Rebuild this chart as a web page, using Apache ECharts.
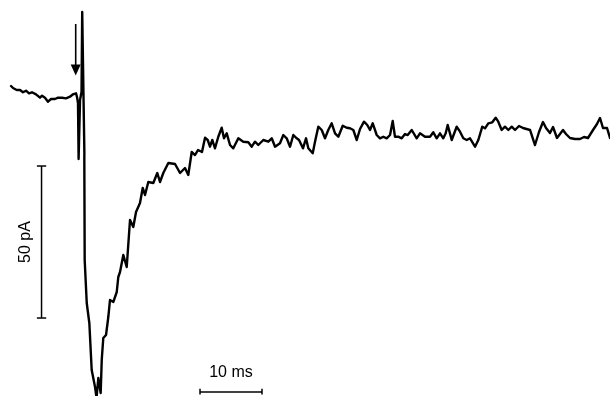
<!DOCTYPE html>
<html>
<head>
<meta charset="utf-8">
<script src="https://cdn.jsdelivr.net/npm/echarts@6/dist/echarts.min.js"></script>
<style>
  html, body { margin: 0; padding: 0; background: #fff; }
  #chart { width: 610px; height: 396px; }
</style>
</head>
<body>
<div id="chart"></div>
<script>
// time (ms) relative to stimulus, current (pA) relative to baseline
var timeMs = [
  -11.61, -11.29, -10.69, -10.16, -9.68, -9.19, -8.71, -8.23, -7.58, -6.94, -6.61, -6.13,
  -5.65, -5.16, -4.52, -4.03, -3.39, -2.74, -2.10, -1.61, -1.29, -1.13,
  -0.97, -0.81, -0.71, -0.55, -0.48, -0.24, -0.13, 0.05, 0.18, 0.22, 0.21, 0.27,
  0.60, 1.02, 1.40, 1.94, 2.18, 2.47, 2.85, 3.02, 3.27, 3.71, 4.08, 4.35, 4.89, 5.44,
  5.69, 5.97, 6.50, 7.05, 7.58, 8.11, 8.55, 9.19, 9.63, 10.00, 10.53, 11.34, 11.98,
  12.42, 12.95, 13.76, 14.84, 15.65, 16.45, 16.98, 17.53, 18.06, 18.55, 19.19, 19.68,
  20.11, 20.48, 20.85, 21.29, 21.82, 22.37, 22.74, 23.18, 23.71, 24.24, 25.05, 25.85,
  26.66, 27.21, 27.74, 28.27, 29.08, 29.89, 30.44, 30.97, 31.77, 32.31, 32.85, 33.39,
  33.92, 34.47, 34.84, 35.48, 35.97, 36.34, 37.05, 37.42, 37.95, 38.50, 39.03, 39.56,
  40.11, 40.65, 41.18, 41.89, 42.53, 43.06, 43.60, 44.15, 44.68, 45.32, 45.85, 46.29,
  46.73, 47.37, 47.90, 48.44, 48.98, 49.52, 49.95, 50.32, 50.85, 51.40, 51.94, 52.37,
  53.02, 53.82, 54.35, 55.16, 55.97, 56.50, 57.05, 57.58, 58.11, 58.50, 58.82, 59.19,
  59.47, 60.27, 60.81, 61.34, 61.89, 62.42, 63.23, 63.76, 64.40, 64.84, 65.37, 66.02,
  66.56, 66.98, 67.53, 68.06, 68.60, 69.15, 69.68, 70.32, 70.97, 72.10, 72.90, 73.55,
  74.19, 74.68, 75.32, 75.81, 76.45, 77.42, 77.90, 78.55, 79.35, 80.16, 80.81, 81.45,
  82.26, 82.90, 83.39, 83.87, 84.52, 85.00
];
var currentPA = [
  2.96, 2.30, 1.64, 1.64, 0.89, 1.41, 0.56, 0.89, 0.23, -0.89, -0.23, -0.89,
  -2.20, -1.32, -1.32, -0.89, -0.89, -1.09, -0.56, 0.23, -0.23, 0.56,
  -0.66, -2.63, -21.05, -21.05, -1.64, 0.99, 27.30, 27.30, 27.30, -19.00, -21.00, -54.28,
  -68.42, -75.00, -90.46, -96.05, -99.60, -93.09, -98.03, -87.17, -79.93, -78.95, -73.03, -67.43, -68.09, -64.80,
  -59.87, -58.22, -52.63, -56.58, -41.12, -43.42, -38.49, -35.53, -30.59, -32.89, -28.62, -28.95, -25.66,
  -28.62, -25.66, -22.37, -22.70, -25.66, -24.01, -26.32, -18.75, -19.74, -18.09, -18.75, -14.05,
  -14.80, -17.01, -14.80, -17.53, -13.72, -10.76, -14.24, -12.60, -16.45, -17.53, -14.24, -15.36,
  -15.56, -17.01, -15.36, -16.45, -14.80, -15.36, -14.24, -17.01, -15.89, -13.16, -14.24, -17.01,
  -13.16, -14.24, -14.80, -17.53, -14.24, -17.53, -19.18, -15.36, -10.43, -11.51, -14.24, -11.51,
  -9.31, -12.60, -13.72, -10.10, -10.76, -10.95, -11.51, -14.80, -11.18, -8.78, -9.87, -11.51,
  -9.31, -13.16, -14.24, -13.72, -14.24, -13.16, -8.55, -13.72, -13.72, -14.24, -12.83, -13.16,
  -11.51, -14.24, -12.60, -13.72, -13.72, -12.27, -14.24, -12.60, -14.24, -12.60, -9.87, -12.60,
  -14.80, -10.43, -12.07, -14.24, -14.80, -14.24, -17.01, -14.80, -10.43, -10.95, -9.31, -8.98,
  -7.47, -8.78, -11.51, -10.43, -11.51, -10.43, -11.51, -10.20, -10.86, -11.51, -16.45, -12.17,
  -8.88, -10.86, -12.50, -10.53, -14.14, -11.51, -12.83, -14.14, -14.47, -14.47, -13.82, -14.14,
  -11.51, -9.54, -7.57, -10.86, -10.86, -14.14
];

// scale bars (ms / pA) and stimulus arrow
var barMs = 10;
var barPA = 50;
var vBarAt = [-6.69, -23.36];   // top of the 50 pA bar
var hBarAt = [18.87, -97.70];   // left end of the 10 ms bar
var arrowMs = -1.18;
var arrowPA = [23.36, 8.2];

var traceData = timeMs.map(function (t, i) { return [t, currentPA[i]]; });

function seg(a, b, w) {
  return {
    type: 'line', data: [a, b], symbol: 'none', silent: true,
    lineStyle: { color: '#000', width: w || 1.5 }
  };
}

var vx = vBarAt[0], vTop = vBarAt[1], vBot = vBarAt[1] - barPA;
var hx0 = hBarAt[0], hx1 = hBarAt[0] + barMs, hy = hBarAt[1];

var chart = echarts.init(document.getElementById('chart'));
var option = {
  animation: false,
  backgroundColor: '#fff',
  grid: { left: 0, right: 0, top: 0, bottom: 0 },
  xAxis: { type: 'value', min: -13.39, max: 85, show: false },
  yAxis: { type: 'value', min: -99.01, max: 31.25, show: false },
  series: [
    {
      type: 'line', data: traceData, symbol: 'none', silent: true,
      lineStyle: { color: '#000', width: 2.4, join: 'round', cap: 'round' }
    },
    seg([vx, vTop], [vx, vBot]),
    seg([vx - 0.75, vTop], [vx + 0.75, vTop]),
    seg([vx - 0.75, vBot], [vx + 0.75, vBot]),
    seg([hx0, hy], [hx1, hy]),
    seg([hx0, hy + 1.1], [hx0, hy - 0.8]),
    seg([hx1, hy + 1.1], [hx1, hy - 0.8]),
    {
      type: 'line', silent: true,
      lineStyle: { color: '#000', width: 1.6 },
      data: [
        { value: [arrowMs, arrowPA[0]], symbol: 'none' },
        { value: [arrowMs, arrowPA[1]], symbol: 'triangle', symbolRotate: 180, symbolSize: [10, 11],
          itemStyle: { color: '#000' } }
      ]
    }
  ]
};
chart.setOption(option);

// scale bar labels placed next to the bars
var pV = chart.convertToPixel({ gridIndex: 0 }, [vx, (vTop + vBot) / 2]);
var pH = chart.convertToPixel({ gridIndex: 0 }, [(hx0 + hx1) / 2, hy]);
chart.setOption({
  graphic: [
    {
      type: 'text', x: pV[0] - 16, y: pV[1], rotation: Math.PI / 2,
      style: { text: '50 pA', fill: '#000', font: '16px "Liberation Sans", Arial, sans-serif',
               align: 'center', verticalAlign: 'middle' }
    },
    {
      type: 'text', x: pH[0], y: pH[1] - 19,
      style: { text: '10 ms', fill: '#000', font: '16px "Liberation Sans", Arial, sans-serif',
               align: 'center', verticalAlign: 'middle' }
    }
  ]
});
</script>
</body>
</html>
